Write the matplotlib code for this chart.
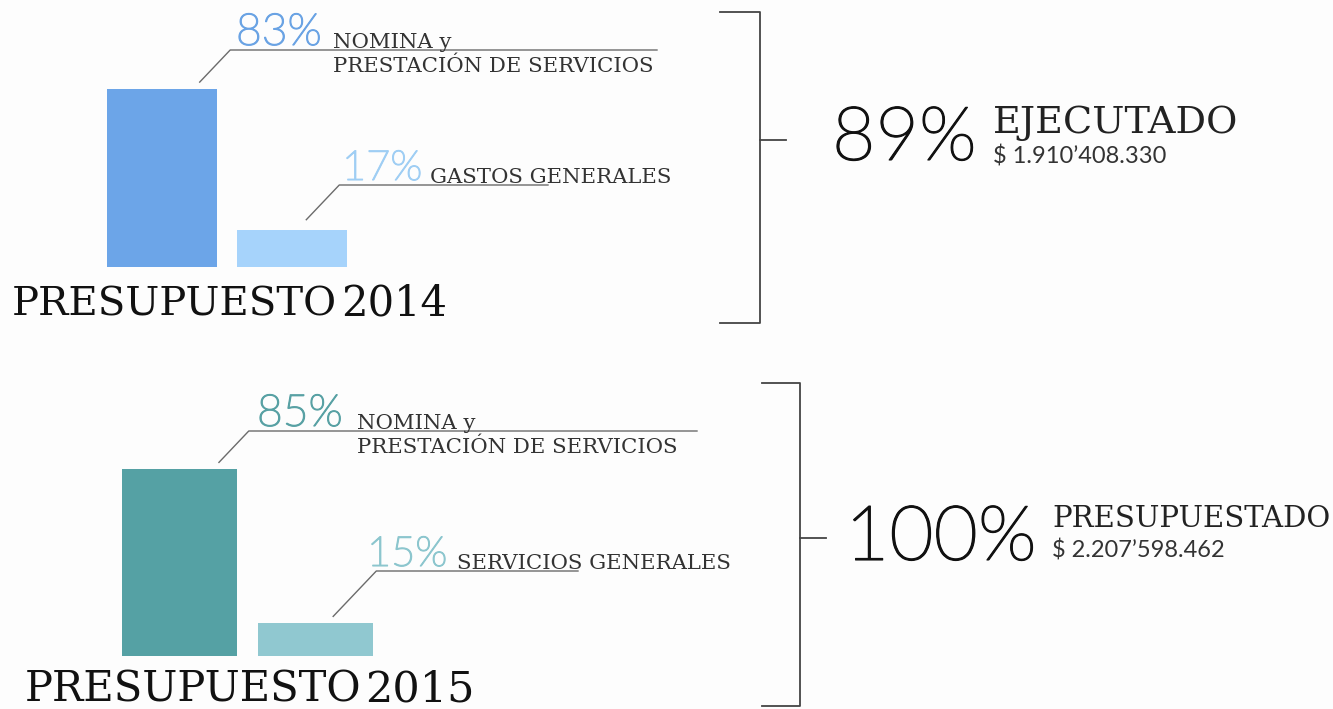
import matplotlib
matplotlib.use("Agg")
import matplotlib.pyplot as plt
import matplotlib.patheffects as pe
from matplotlib import font_manager

# Data
years = ["2014", "2015"]
shares_2014 = [83, 17]
shares_2015 = [85, 15]
labels_2014 = ["NOMINA y\nPRESTACIÓN DE SERVICIOS", "GASTOS GENERALES"]
labels_2015 = ["NOMINA y\nPRESTACIÓN DE SERVICIOS", "SERVICIOS GENERALES"]
colors_2014 = ["#6ca5e8", "#a6d3fb"]
colors_2015 = ["#55a1a4", "#90c8d0"]
text_colors_2014 = ["#6aa3e4", "#9fcef4"]
text_colors_2015 = ["#58a1a4", "#8cc6ce"]
summary_pct = ["89%", "100%"]
summary_label = ["EJECUTADO", "PRESUPUESTADO"]
summary_amount = ["$ 1.910’408.330", "$ 2.207’598.462"]


def pick(families):
    for f in families:
        try:
            font_manager.findfont(font_manager.FontProperties(family=f),
                                  fallback_to_default=False)
            return f
        except Exception:
            pass
    return "DejaVu Sans"


def pick_light(families):
    # look for a real light (200-300) face among the installed fonts
    for f in families:
        for e in font_manager.fontManager.ttflist:
            w = e.weight if isinstance(e.weight, int) else 400
            if e.name == f and 200 <= w <= 300 and e.style == "normal":
                return f, w
    return pick(families), "normal"


SLAB = pick(["DejaVu Serif Condensed", "DejaVu Serif"])
THIN = pick(["Lato", "Open Sans", "Roboto"])
LIGHT, LIGHT_W = pick_light(["Lato", "Open Sans", "Inter", "Roboto", "Noto Sans"])
# thicken the light face a little
thick = lambda c: [pe.withStroke(linewidth=0.8, foreground=c)]

W, H = 1333, 709
fig = plt.figure(figsize=(W / 100, H / 100), dpi=100)
fig.patch.set_facecolor("#fdfdfd")

# bar axes, placed in pixels: (left, baseline, width, px per unit)
groups = [
    dict(shares=shares_2014, colors=colors_2014, tcolors=text_colors_2014,
         labels=labels_2014, box=(97, 267, 260, 2.15)),
    dict(shares=shares_2015, colors=colors_2015, tcolors=text_colors_2015,
         labels=labels_2015, box=(111.5, 656, 272, 2.2)),
]

bar_axes = []
for g in groups:
    left, base, width, ppu = g["box"]
    a = fig.add_axes([left / W, (H - base) / H, width / W, 100 * ppu / H])
    a.bar([0, 1], g["shares"], width=0.846, color=g["colors"])
    a.set_xlim(-0.5, 1.5)
    a.set_ylim(0, 100)
    a.axis("off")
    bar_axes.append(a)

ov = fig.add_axes([0, 0, 1, 1])
ov.set_xlim(0, W)
ov.set_ylim(H, 0)
ov.axis("off")
ov.patch.set_alpha(0)


def to_px(a, x, y):
    d = a.transData.transform((x, y))
    return ov.transData.inverted().transform(d)


line_c = "#6b6b6b"
txt_c = "#333333"

# callout layout per group: (dx, dy, line_y, line_end, pct_x, pct_size, label_x)
callouts = [
    [(0.29, 3, 50, 657, 236, 32, 333), (0.11, 5, 185, 548, 342, 30, 430)],
    [(0.29, 3, 431, 697, 257, 32, 357), (0.13, 3, 571, 578, 367, 30, 457)],
]

for g, a, cl in zip(groups, bar_axes, callouts):
    for i, (dx, dy, ly, lend, px, ps, lx) in enumerate(cl):
        x0, y0 = to_px(a, i + dx, g["shares"][i] + dy)
        x1 = x0 + (y0 - ly) * 0.95
        ov.plot([x0, x1, lend], [y0, ly, ly], color=line_c, lw=1.0)
        tc = g["tcolors"][i]
        ov.text(px, ly - 5, f"{g['shares'][i]}%", color=tc,
                fontsize=ps, family=LIGHT, fontweight=LIGHT_W,
                ha="left", va="baseline", path_effects=thick(tc))
        lines = g["labels"][i].split("\n")
        ov.text(lx, ly - 2, lines[0], color=txt_c, fontsize=15.3,
                family=SLAB, ha="left", va="baseline")
        if len(lines) > 1:
            ov.text(lx, ly + 22, lines[1], color=txt_c, fontsize=15.3,
                    family=SLAB, ha="left", va="baseline")

# titles
ov.text(12, 316, "PRESUPUESTO", color="#111111", fontsize=29,
        family=SLAB, ha="left", va="baseline")
ov.text(447, 316, years[0], color="#111111", fontsize=30,
        family=SLAB, ha="right", va="baseline")
ov.text(25, 702, "PRESUPUESTO", color="#111111", fontsize=30,
        family=SLAB, ha="left", va="baseline")
ov.text(475, 702, years[1], color="#111111", fontsize=31,
        family=SLAB, ha="right", va="baseline")

# brackets + summary
brackets = [(760, 12, 323, 720, 140), (800, 383, 706, 762, 538)]
summary_pos = [(832, 160, 54, 993, 133, 163, 27.5),
               (845, 560, 55, 1052, 527, 557, 21)]
for (bx, top, bot, tip, mid), (px, pb, ps, lx, lb, ab, ls), pct, lab, amt in zip(
        brackets, summary_pos, summary_pct, summary_label, summary_amount):
    ov.plot([tip, bx, bx, tip], [top, top, bot, bot], color="#444444", lw=1.3)
    ov.plot([bx, bx + 26], [mid, mid], color="#444444", lw=1.3)
    ov.text(px, pb, pct, color="#111111", fontsize=ps, family=LIGHT,
            fontweight=LIGHT_W, ha="left", va="baseline",
            path_effects=thick("#111111"))
    ov.text(lx, lb, lab, color="#222222", fontsize=ls, family=SLAB,
            ha="left", va="baseline")
    ov.text(lx, ab, amt, color="#333333", fontsize=17, family=THIN,
            ha="left", va="baseline")

fig.savefig("out.png", dpi=100, facecolor=fig.get_facecolor())
